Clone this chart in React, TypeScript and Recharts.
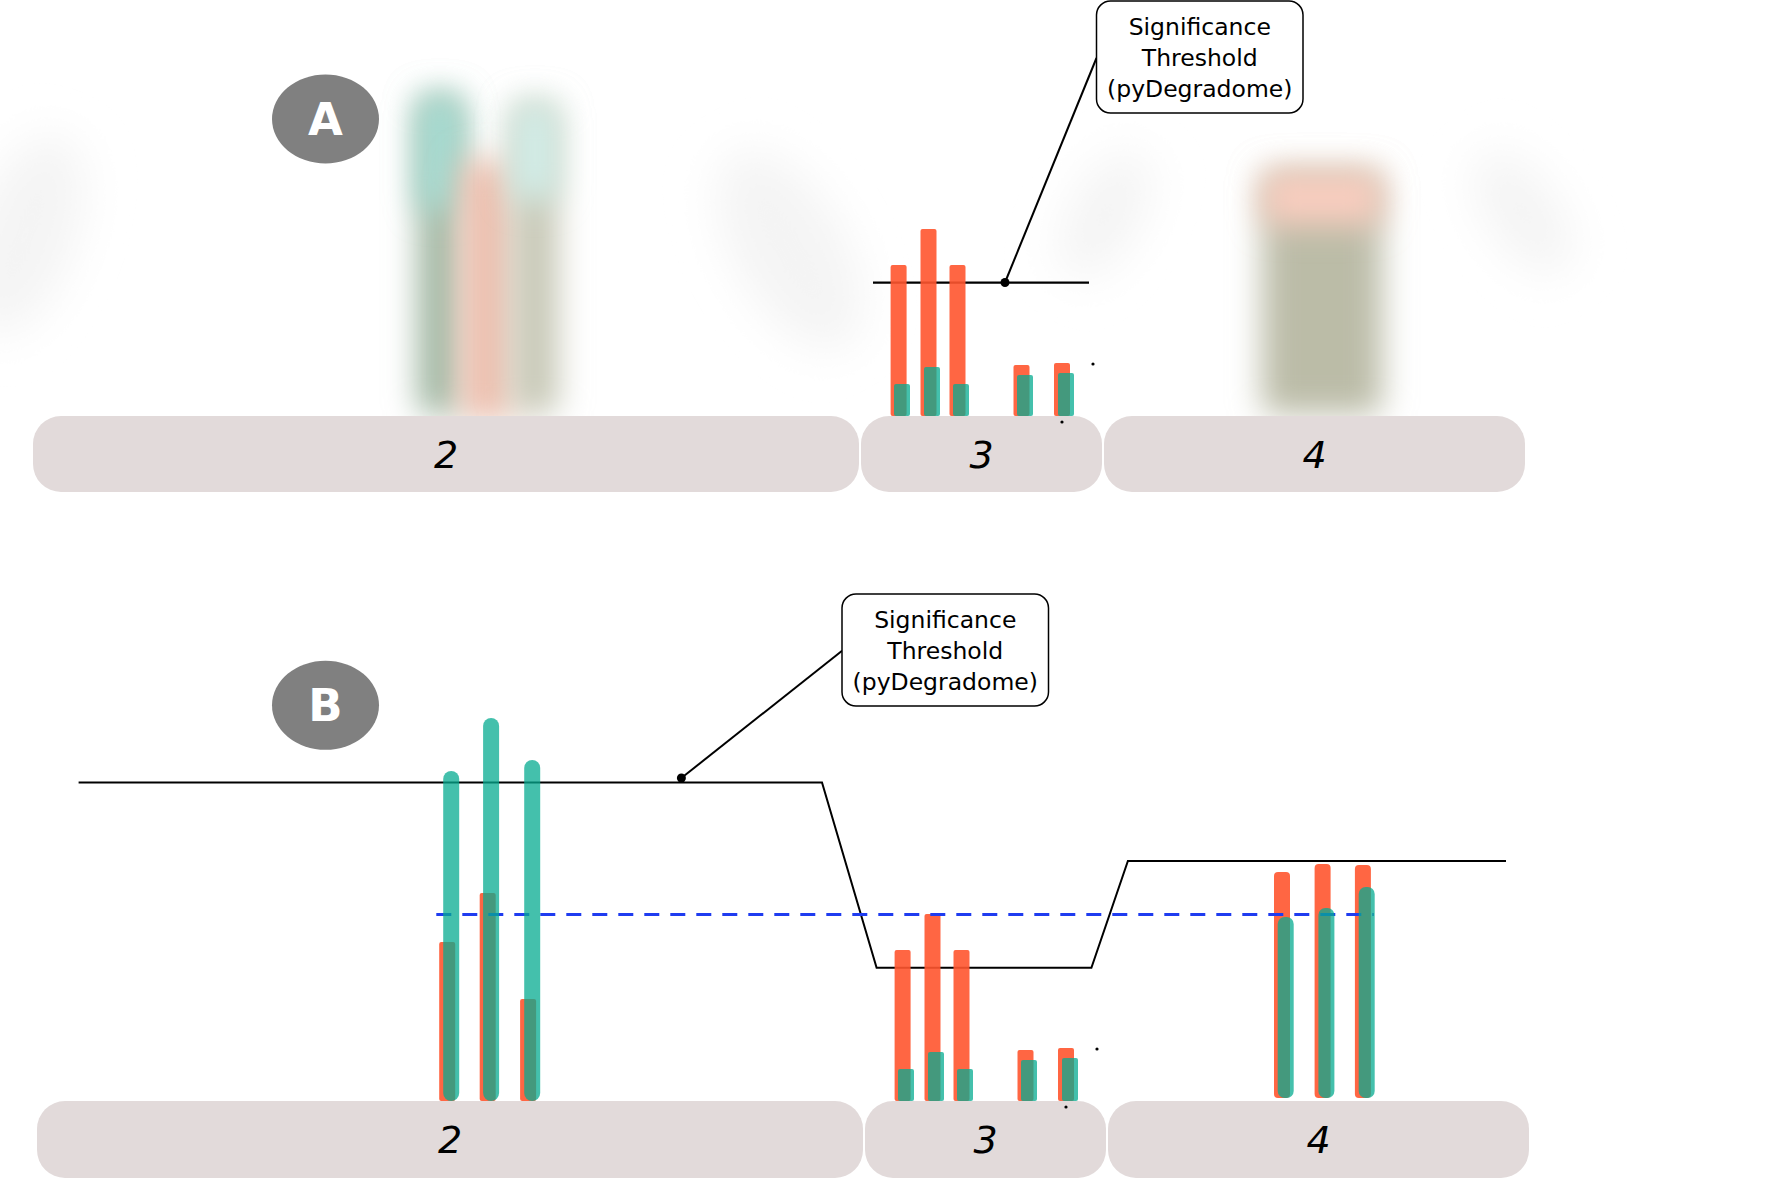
import React from 'react';
import { ComposedChart, XAxis, YAxis, Line, ReferenceArea, ReferenceLine, ReferenceDot } from 'recharts';

// ---------------- data (x: transcript position units, y: signal units) ----------------
const exonLabels = ['2', '3', '4'];
const exonStart = [3.3, 86.1, 110.4];
const exonEnd = [85.9, 110.2, 152.5];
const exonDepthA = -7.6;
const exonDepthB = -7.7;

// exon 3 cleavage signals (identical in both panels)
const ex3OrangePos = [89.86, 92.85, 95.75, 102.15, 106.2];
const ex3OrangeVal = [15.1, 18.7, 15.1, 5.1, 5.3];
const ex3TealPos = [90.2, 93.2, 96.1, 102.5, 106.6];
const ex3TealVal = [3.2, 4.9, 3.2, 4.1, 4.3];

// panel B exon 2 signals
const ex2OrangePos = [44.32, 48.37, 52.41];
const ex2OrangeVal = [15.9, 20.8, 10.2];
const ex2TealPos = [44.72, 48.71, 52.82];
const ex2TealVal = [33.0, 38.3, 34.1];

// panel B exon 4 signals
const ex4Base = 0.3;
const ex4OrangePos = [127.8, 131.86, 135.89];
const ex4OrangeVal = [22.9, 23.7, 23.6];
const ex4TealPos = [128.17, 132.24, 136.27];
const ex4TealVal = [18.4, 19.3, 21.4];

// thresholds
const thresholdA = [
  { x: 87.3, y: 13.33 },
  { x: 108.9, y: 13.33 },
];
const thresholdB = [
  { x: 7.46, y: 31.85 },
  { x: 81.8, y: 31.85 },
  { x: 87.26, y: 13.32 },
  { x: 108.74, y: 13.32 },
  { x: 112.39, y: 24.0 },
  { x: 150.2, y: 24.0 },
];
const meanLineB = [
  { x: 43.23, y: 18.65 },
  { x: 136.98, y: 18.65 },
];
const strayDots = [
  { x: 109.3, y: 5.2 },
  { x: 106.2, y: -0.6 },
];

// annotations
const calloutText = ['Significance', 'Threshold', '(pyDegradome)'];
const calloutA = { x1: 109.65, x2: 130.3, y1: 30.3, y2: 41.5 };
const calloutB = { x1: 83.8, x2: 104.45, y1: 39.5, y2: 50.7 };
const leaderA = [
  { x: 100.5, y: 13.35 },
  { x: 109.65, y: 35.8 },
];
const leaderB = [
  { x: 67.74, y: 32.3 },
  { x: 83.81, y: 45.03 },
];
const panelLetters = ['A', 'B'];
const badgeA = { x: 32.55, y: 29.7 };
const badgeB = { x: 32.15, y: 39.57 };

// blurred background (panel A)
const blobX = [2.5, 79, 110.5, 152.3];
const blobY = [18.1, 16.6, 20.1, 20.3];
const blobRx = [5, 5.5, 3.5, 3.5];
const blobRy = [10.5, 11, 7, 7];
const blobTilt = [20, -30, 30, -35];

const smearX1 = [41.8, 41.8, 46.0, 51.2, 51.2, 126.2, 126.2];
const smearX2 = [46.2, 46.2, 51.4, 55.8, 55.8, 138.2, 138.2];
const smearTop = [32.0, 32.0, 25.6, 31.3, 31.3, 24.5, 24.5];
const smearBottom = [0.2, 20.6, -0.4, 0.2, 21.6, 0.2, 19.1];
const smearColor = ['#9fb6a1', '#a6ddd4', '#edbfae', '#c6c7b5', '#d2eee9', '#bbbca7', '#f9cdbf'];

// ---------------- styles ----------------
const ORANGE = '#ff552f';
const ORANGE_OP = 0.9;
const TEAL = '#06ab90';
const TEAL_OP = 0.75;
const BOX = '#e2dada';
const FONT = 'DejaVu Sans';
const BAR_W = 1.6;

const W = 1791;
const HA = 540;
const HB = 639;
const B_SHIFT = 4;

const rectShape = (fill: string, r: number, opacity = 1, filter?: string) => (p: any) => {
  if (!p || p.x == null || isNaN(p.x)) return <g />;
  const rr = Math.min(r, Math.abs(p.width) / 2, Math.abs(p.height) / 2);
  return (
    <rect
      x={p.x}
      y={p.y}
      width={p.width}
      height={p.height}
      rx={rr}
      ry={rr}
      fill={fill}
      fillOpacity={opacity}
      filter={filter}
    />
  );
};

const ellipseShape = (fill: string, tilt: number) => (p: any) => {
  if (!p || p.x == null || isNaN(p.x)) return <g />;
  const cx = p.x + p.width / 2;
  const cy = p.y + p.height / 2;
  return (
    <ellipse
      cx={cx}
      cy={cy}
      rx={p.width / 2}
      ry={p.height / 2}
      fill={fill}
      filter="url(#blobBlur)"
      transform={`rotate(${tilt} ${cx} ${cy})`}
    />
  );
};

const exonShape = (label: string) => (p: any) => {
  if (!p || p.x == null || isNaN(p.x)) return <g />;
  const cx = p.x + p.width / 2;
  const cy = p.y + p.height / 2;
  return (
    <g>
      <rect x={p.x} y={p.y} width={p.width} height={p.height} rx={28} ry={28} fill={BOX} />
      <text x={cx} y={cy + 13.5} textAnchor="middle" fontFamily={FONT} fontStyle="italic" fontSize={38} fill="#000">
        {label}
      </text>
    </g>
  );
};

const calloutShape = (p: any) => {
  if (!p || p.x == null || isNaN(p.x)) return <g />;
  const cx = p.x + p.width / 2;
  const cy = p.y + p.height / 2;
  return (
    <g>
      <rect x={p.x} y={p.y} width={p.width} height={p.height} rx={14} ry={14} fill="#fff" stroke="#000" strokeWidth={1.5} />
      <text textAnchor="middle" fontFamily={FONT} fontSize={23.5} fill="#000">
        {calloutText.map((t, i) => (
          <tspan key={i} x={cx} y={cy + (i - 1) * 31 + 8.5}>
            {t}
          </tspan>
        ))}
      </text>
    </g>
  );
};

const badgeShape = (letter: string) => (p: any) => {
  if (!p || p.cx == null || isNaN(p.cx)) return <g />;
  return (
    <g>
      <ellipse cx={p.cx} cy={p.cy} rx={53.5} ry={44.5} fill="#808080" />
      <text x={p.cx} y={p.cy + 16} textAnchor="middle" fontFamily={FONT} fontWeight="bold" fontSize={45} fill="#fff">
        {letter}
      </text>
    </g>
  );
};

const bars = (
  key: string,
  pos: number[],
  val: number[],
  base: number,
  fill: string,
  opacity: number,
  r: number,
  z: number
) =>
  pos.map((x, i) => (
    <ReferenceArea
      key={`${key}-${i}`}
      x1={x - BAR_W / 2}
      x2={x + BAR_W / 2}
      y1={base}
      y2={val[i]}
      ifOverflow="visible"
      zIndex={z}
      shape={rectShape(fill, r, opacity)}
    />
  ));

const exonBoxes = (depth: number) =>
  exonLabels.map((lab, i) => (
    <ReferenceArea
      key={`exon-${i}`}
      x1={exonStart[i]}
      x2={exonEnd[i]}
      y1={depth}
      y2={0}
      ifOverflow="visible"
      zIndex={20}
      shape={exonShape(lab)}
    />
  ));

const dots = (key: string) =>
  strayDots.map((d, i) => (
    <ReferenceDot key={`${key}-${i}`} x={d.x} y={d.y} r={1.6} fill="#000" stroke="none" ifOverflow="visible" zIndex={80} />
  ));

const PanelA = () => (
  <ComposedChart width={W} height={HA} margin={{ top: 0, right: 0, bottom: 0, left: 0 }}>
    <XAxis type="number" dataKey="x" domain={[0, 179.1]} hide allowDataOverflow />
    <YAxis type="number" domain={[-12.4, 41.6]} hide allowDataOverflow />
    {blobX.map((x, i) => (
      <ReferenceArea
        key={`blob-${i}`}
        x1={x - blobRx[i]}
        x2={x + blobRx[i]}
        y1={blobY[i] - blobRy[i]}
        y2={blobY[i] + blobRy[i]}
        ifOverflow="visible"
        zIndex={10}
        shape={ellipseShape('#f4f4f4', blobTilt[i])}
      />
    ))}
    {smearX1.map((x, i) => (
      <ReferenceArea
        key={`smear-${i}`}
        x1={x}
        x2={smearX2[i]}
        y1={smearBottom[i]}
        y2={smearTop[i]}
        ifOverflow="visible"
        zIndex={10}
        shape={rectShape(smearColor[i], 10, 1, 'url(#smearBlur)')}
      />
    ))}
    {exonBoxes(exonDepthA)}
    <Line
      data={thresholdA}
      dataKey="y"
      type="linear"
      stroke="#000"
      strokeWidth={2.2}
      dot={false}
      activeDot={false}
      isAnimationActive={false}
      zIndex={30}
    />
    {bars('a3o', ex3OrangePos, ex3OrangeVal, 0, ORANGE, ORANGE_OP, 2, 40)}
    {bars('a3t', ex3TealPos, ex3TealVal, 0, TEAL, TEAL_OP, 2, 60)}
    <ReferenceLine
      segment={leaderA}
      stroke="#000"
      strokeWidth={2}
      ifOverflow="visible"
      zIndex={70}
    />
    <ReferenceDot x={leaderA[0].x} y={leaderA[0].y} r={4.5} fill="#000" stroke="none" ifOverflow="visible" zIndex={80} />
    {dots('ad')}
    <ReferenceArea {...calloutA} ifOverflow="visible" zIndex={90} shape={calloutShape} />
    <ReferenceDot x={badgeA.x} y={badgeA.y} r={40} ifOverflow="visible" zIndex={90} shape={badgeShape(panelLetters[0])} />
  </ComposedChart>
);

const PanelB = () => (
  <ComposedChart width={W - B_SHIFT} height={HB} margin={{ top: 0, right: 0, bottom: 0, left: 0 }}>
    <XAxis type="number" dataKey="x" domain={[0, 178.7]} hide allowDataOverflow />
    <YAxis type="number" domain={[-7.8, 56.1]} hide allowDataOverflow />
    {exonBoxes(exonDepthB)}
    <Line
      data={thresholdB}
      dataKey="y"
      type="linear"
      stroke="#000"
      strokeWidth={2}
      dot={false}
      activeDot={false}
      isAnimationActive={false}
      zIndex={30}
    />
    {bars('b2o', ex2OrangePos, ex2OrangeVal, 0, ORANGE, ORANGE_OP, 2, 40)}
    {bars('b3o', ex3OrangePos, ex3OrangeVal, 0, ORANGE, ORANGE_OP, 2, 40)}
    {bars('b4o', ex4OrangePos, ex4OrangeVal, ex4Base, ORANGE, ORANGE_OP, 4, 40)}
    <ReferenceLine
      segment={meanLineB}
      stroke="#1f3cf0"
      strokeWidth={3}
      strokeDasharray="15 11"
      ifOverflow="visible"
      zIndex={50}
    />
    {bars('b2t', ex2TealPos, ex2TealVal, 0, TEAL, TEAL_OP, 8, 60)}
    {bars('b3t', ex3TealPos, ex3TealVal, 0, TEAL, TEAL_OP, 2, 60)}
    {bars('b4t', ex4TealPos, ex4TealVal, ex4Base, TEAL, TEAL_OP, 7, 60)}
    <ReferenceLine segment={leaderB} stroke="#000" strokeWidth={2} ifOverflow="visible" zIndex={70} />
    <ReferenceDot x={leaderB[0].x} y={leaderB[0].y} r={4.5} fill="#000" stroke="none" ifOverflow="visible" zIndex={80} />
    {dots('bd')}
    <ReferenceArea {...calloutB} ifOverflow="visible" zIndex={90} shape={calloutShape} />
    <ReferenceDot x={badgeB.x} y={badgeB.y} r={40} ifOverflow="visible" zIndex={90} shape={badgeShape(panelLetters[1])} />
  </ComposedChart>
);

export default function App() {
  return (
    <div style={{ position: 'absolute', left: 0, top: 0, width: W, height: HA + HB, background: '#fff', overflow: 'hidden' }}>
      <svg width={0} height={0} style={{ position: 'absolute' }}>
        <defs>
          <filter id="smearBlur" x="-100%" y="-100%" width="300%" height="300%">
            <feGaussianBlur stdDeviation="16" />
          </filter>
          <filter id="blobBlur" x="-100%" y="-100%" width="300%" height="300%">
            <feGaussianBlur stdDeviation="22" />
          </filter>
        </defs>
      </svg>
      <div style={{ position: 'absolute', left: 0, top: 0 }}>
        <PanelA />
      </div>
      <div style={{ position: 'absolute', left: B_SHIFT, top: HA }}>
        <PanelB />
      </div>
    </div>
  );
}
